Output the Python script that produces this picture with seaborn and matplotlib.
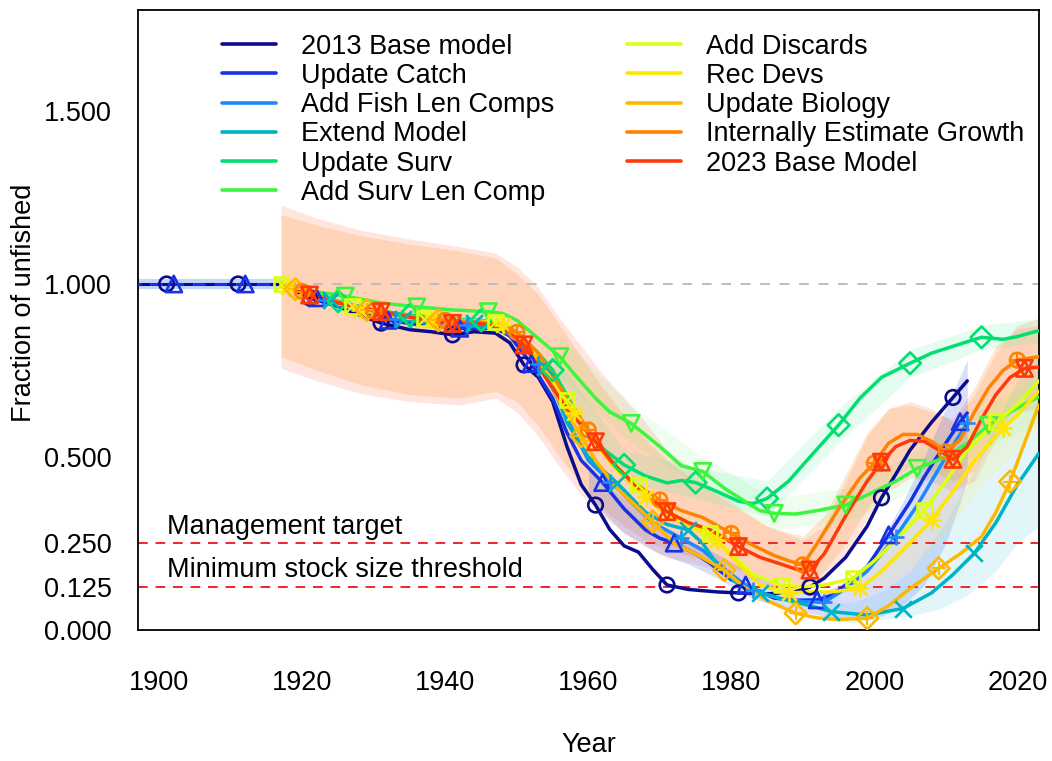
import numpy as np
import pandas as pd
import matplotlib
matplotlib.use("Agg")
import matplotlib.pyplot as plt
from matplotlib.lines import Line2D
import seaborn as sns

# ---------------- data ----------------
model_names = ["2013 Base model", "Update Catch", "Add Fish Len Comps", "Extend Model",
               "Update Surv", "Add Surv Len Comp", "Add Discards", "Rec Devs",
               "Update Biology", "Internally Estimate Growth", "2023 Base Model"]
model_colors = ["#0B0B8E", "#1432E6", "#1E88FF", "#00B2C2", "#00E070", "#3CF53C",
                "#DDFF10", "#FFE600", "#FFB800", "#FF8200", "#FF3A0A"]
marker_kinds = ["o", "^", "+", "x", "D", "v", "sx", "ast", "D+", "o+", "star"]

# virgin (pre-model) segment for the two oldest models
virgin_base_years = [1897, 1901, 1911, 1917]
virgin_base_vals = [1.0, 1.0, 1.0, 1.0]
virgin_catch_years = [1897, 1902, 1912, 1917]
virgin_catch_vals = [1.0, 1.0, 1.0, 1.0]

base2013_years = [1917, 1921, 1925, 1928, 1931, 1935, 1938, 1941, 1944, 1947, 1949, 1951, 1953, 1955,
                  1957, 1959, 1961, 1963, 1965, 1967, 1969, 1971, 1974, 1978, 1981, 1985, 1989, 1991,
                  1993, 1996, 1999, 2001, 2003, 2005, 2008, 2011, 2013]
base2013_vals = [1.0, 0.96, 0.935, 0.91, 0.887, 0.868, 0.862, 0.853, 0.862, 0.858, 0.83, 0.766, 0.73, 0.66,
                 0.53, 0.42, 0.361, 0.29, 0.243, 0.225, 0.175, 0.130, 0.117, 0.11, 0.107, 0.104, 0.111, 0.124,
                 0.15, 0.21, 0.30, 0.382, 0.45, 0.52, 0.60, 0.672, 0.72]

catch_years = [1917, 1922, 1927, 1932, 1937, 1942, 1947, 1949, 1952, 1955, 1957, 1959, 1962, 1965, 1968,
               1970, 1972, 1975, 1977, 1980, 1982, 1986, 1989, 1992, 1994, 1996, 1999, 2002, 2005, 2007,
               2010, 2012, 2013]
catch_vals = [1.0, 0.96, 0.925, 0.895, 0.88, 0.872, 0.872, 0.85, 0.77, 0.67, 0.57, 0.49, 0.426, 0.35, 0.289,
              0.265, 0.251, 0.22, 0.193, 0.145, 0.13, 0.092, 0.086, 0.087, 0.10, 0.13, 0.183, 0.275, 0.37, 0.443,
              0.54, 0.602, 0.627]

fishlen_years = [1917, 1923, 1928, 1933, 1938, 1943, 1948, 1950, 1953, 1956, 1958, 1960, 1963, 1966, 1969,
                 1973, 1976, 1980, 1983, 1987, 1990, 1993, 1996, 1999, 2003, 2006, 2010, 2013]
fishlen_vals = [1.0, 0.955, 0.925, 0.90, 0.885, 0.88, 0.872, 0.84, 0.77, 0.66, 0.57, 0.49, 0.429, 0.37, 0.31,
                0.265, 0.23, 0.16, 0.115, 0.09, 0.082, 0.08, 0.12, 0.17, 0.27, 0.36, 0.50, 0.598]

extend_years = [1917, 1920, 1924, 1929, 1934, 1939, 1944, 1947, 1950, 1954, 1957, 1960, 1964, 1968, 1971,
                1974, 1976, 1978, 1981, 1984, 1988, 1991, 1994, 1999, 2004, 2008, 2011, 2014, 2017, 2020, 2023]
extend_vals = [1.0, 0.98, 0.955, 0.92, 0.898, 0.89, 0.887, 0.88, 0.84, 0.76, 0.60, 0.50, 0.425, 0.34, 0.305,
               0.289, 0.25, 0.19, 0.13, 0.107, 0.085, 0.07, 0.053, 0.043, 0.062, 0.107, 0.16, 0.222, 0.31, 0.42, 0.51]

surv_years = [1917, 1921, 1925, 1930, 1935, 1940, 1945, 1948, 1950, 1953, 1955, 1958, 1961, 1965, 1968,
              1971, 1973, 1975, 1978, 1981, 1983, 1985, 1988, 1991, 1995, 1998, 2001, 2005, 2008, 2011,
              2015, 2018, 2020, 2023]
surv_vals = [1.0, 0.975, 0.95, 0.925, 0.91, 0.90, 0.895, 0.885, 0.86, 0.80, 0.751, 0.64, 0.54, 0.477, 0.445,
             0.425, 0.432, 0.426, 0.40, 0.372, 0.365, 0.38, 0.43, 0.50, 0.592, 0.67, 0.73, 0.771, 0.80, 0.82,
             0.846, 0.84, 0.848, 0.865]

survlen_years = [1917, 1921, 1926, 1931, 1936, 1941, 1946, 1948, 1950, 1952, 1956, 1958, 1961, 1963, 1966,
                 1970, 1973, 1976, 1979, 1982, 1984, 1986, 1989, 1992, 1996, 1999, 2003, 2006, 2010, 2013,
                 2016, 2019, 2023]
survlen_vals = [1.0, 0.98, 0.965, 0.945, 0.934, 0.925, 0.92, 0.915, 0.895, 0.86, 0.79, 0.74, 0.67, 0.63, 0.597,
                0.53, 0.475, 0.458, 0.41, 0.37, 0.345, 0.337, 0.335, 0.345, 0.361, 0.39, 0.43, 0.467, 0.50, 0.54,
                0.592, 0.63, 0.674]

discards_years = [1917, 1922, 1927, 1932, 1937, 1942, 1947, 1950, 1953, 1957, 1960, 1963, 1967, 1970, 1974,
                  1977, 1980, 1983, 1987, 1990, 1993, 1997, 2000, 2003, 2007, 2010, 2013, 2017, 2020, 2023]
discards_vals = [1.0, 0.965, 0.935, 0.91, 0.90, 0.895, 0.89, 0.85, 0.79, 0.665, 0.56, 0.49, 0.419, 0.36, 0.31,
                 0.279, 0.22, 0.16, 0.13, 0.125, 0.13, 0.149, 0.20, 0.26, 0.347, 0.43, 0.52, 0.602, 0.65, 0.72]

recdevs_years = [1917, 1918, 1923, 1928, 1933, 1938, 1943, 1948, 1950, 1953, 1955, 1958, 1961, 1964, 1968,
                 1971, 1974, 1978, 1981, 1984, 1988, 1991, 1994, 1998, 2001, 2004, 2008, 2011, 2014, 2018,
                 2020, 2023]
recdevs_vals = [1.0, 0.99, 0.955, 0.925, 0.905, 0.895, 0.89, 0.88, 0.85, 0.78, 0.72, 0.627, 0.54, 0.46, 0.385,
                0.33, 0.30, 0.26, 0.19, 0.13, 0.107, 0.11, 0.11, 0.12, 0.17, 0.23, 0.318, 0.40, 0.49, 0.583,
                0.62, 0.69]

biology_years = [1917, 1919, 1924, 1929, 1934, 1939, 1944, 1948, 1950, 1953, 1956, 1959, 1961, 1964, 1969,
                 1972, 1975, 1979, 1982, 1985, 1989, 1992, 1995, 1999, 2002, 2005, 2009, 2012, 2015, 2017,
                 2019, 2021, 2023]
biology_vals = [1.0, 0.985, 0.95, 0.925, 0.905, 0.895, 0.89, 0.878, 0.85, 0.78, 0.66, 0.56, 0.49, 0.41, 0.313,
                0.25, 0.22, 0.173, 0.12, 0.085, 0.048, 0.035, 0.03, 0.034, 0.07, 0.12, 0.178, 0.22, 0.27, 0.34,
                0.429, 0.54, 0.65]

growth_years = [1917, 1920, 1925, 1930, 1935, 1940, 1945, 1948, 1950, 1953, 1957, 1960, 1963, 1966, 1970,
                1973, 1976, 1980, 1983, 1986, 1988, 1990, 1992, 1995, 1998, 2000, 2002, 2004, 2006, 2008,
                2010, 2012, 2014, 2016, 2018, 2020, 2023]
growth_vals = [1.0, 0.978, 0.948, 0.922, 0.905, 0.895, 0.89, 0.88, 0.86, 0.80, 0.67, 0.578, 0.49, 0.43, 0.376,
               0.345, 0.325, 0.279, 0.245, 0.215, 0.20, 0.188, 0.25, 0.35, 0.44, 0.482, 0.54, 0.565, 0.565, 0.545,
               0.515, 0.55, 0.63, 0.70, 0.75, 0.78, 0.79]

base2023_years = [1917, 1921, 1926, 1931, 1936, 1941, 1945, 1948, 1951, 1954, 1957, 1961, 1964, 1967, 1971,
                  1974, 1977, 1981, 1984, 1987, 1989, 1991, 1993, 1996, 1999, 2001, 2003, 2005, 2007, 2009,
                  2011, 2013, 2015, 2017, 2019, 2021, 2023]
base2023_vals = [1.0, 0.968, 0.94, 0.92, 0.90, 0.886, 0.885, 0.875, 0.824, 0.73, 0.64, 0.544, 0.47, 0.41, 0.342,
                 0.31, 0.29, 0.241, 0.21, 0.19, 0.176, 0.173, 0.22, 0.33, 0.43, 0.485, 0.53, 0.548, 0.545, 0.52,
                 0.493, 0.53, 0.61, 0.68, 0.73, 0.756, 0.76]

# uncertainty bands (read from the shaded areas)
band_red_years = [1917, 1922, 1928, 1935, 1942, 1947, 1950, 1953, 1956, 1959, 1962, 1965, 1968, 1971, 1975,
                  1980, 1985, 1990, 1993, 1996, 1999, 2002, 2005, 2008, 2011, 2014, 2017, 2020, 2023]
band_red_hi = [1.228, 1.19, 1.156, 1.13, 1.108, 1.089, 1.05, 0.99, 0.90, 0.82, 0.74, 0.67, 0.60, 0.52, 0.45,
               0.37, 0.30, 0.26, 0.30, 0.43, 0.56, 0.64, 0.66, 0.64, 0.60, 0.68, 0.80, 0.88, 0.90]
band_red_lo = [0.756, 0.72, 0.684, 0.66, 0.65, 0.67, 0.63, 0.56, 0.47, 0.39, 0.33, 0.28, 0.24, 0.21, 0.19,
               0.16, 0.13, 0.11, 0.14, 0.22, 0.32, 0.40, 0.44, 0.43, 0.40, 0.43, 0.55, 0.63, 0.64]
band_orange_hi = [1.20, 1.17, 1.14, 1.115, 1.095, 1.075, 1.03, 0.97, 0.88, 0.79, 0.70, 0.62, 0.55, 0.49, 0.43,
                  0.36, 0.30, 0.27, 0.33, 0.45, 0.57, 0.64, 0.65, 0.63, 0.61, 0.70, 0.82, 0.87, 0.88]
band_orange_lo = [0.79, 0.75, 0.71, 0.68, 0.67, 0.69, 0.66, 0.59, 0.50, 0.42, 0.35, 0.30, 0.26, 0.23, 0.21,
                  0.18, 0.15, 0.13, 0.17, 0.25, 0.35, 0.43, 0.47, 0.46, 0.43, 0.46, 0.57, 0.65, 0.67]

band_virgin_years = [1897, 1917]
band_virgin_hi = [1.015, 1.015]
band_virgin_lo = [0.985, 0.985]

band_catch_years = [1960, 1965, 1970, 1974, 1978, 1983, 1988, 1993, 1998, 2001, 2004, 2007, 2010, 2013]
band_catch_hi = [0.46, 0.38, 0.30, 0.26, 0.22, 0.16, 0.12, 0.11, 0.16, 0.26, 0.37, 0.50, 0.64, 0.78]
band_catch_lo = [0.38, 0.28, 0.22, 0.19, 0.15, 0.09, 0.06, 0.04, 0.03, 0.04, 0.07, 0.13, 0.25, 0.43]

band_extend_years = [1993, 1997, 2001, 2005, 2009, 2013, 2017, 2020, 2023]
band_extend_hi = [0.08, 0.08, 0.11, 0.17, 0.28, 0.42, 0.60, 0.72, 0.80]
band_extend_lo = [0.03, 0.02, 0.03, 0.04, 0.06, 0.10, 0.17, 0.25, 0.30]

band_surv_years = [1955, 1965, 1975, 1985, 1995, 2005, 2015, 2023]
band_surv_hi = [0.80, 0.52, 0.47, 0.43, 0.64, 0.81, 0.88, 0.90]
band_surv_lo = [0.70, 0.43, 0.38, 0.33, 0.54, 0.73, 0.81, 0.83]

band_survlen_years = [1956, 1966, 1976, 1986, 1996, 2006, 2016, 2023]
band_survlen_hi = [0.85, 0.65, 0.50, 0.38, 0.41, 0.52, 0.65, 0.73]
band_survlen_lo = [0.73, 0.54, 0.41, 0.29, 0.31, 0.41, 0.53, 0.60]

band_recdevs_years = [2000, 2005, 2010, 2015, 2020, 2023]
band_recdevs_hi = [0.24, 0.33, 0.48, 0.62, 0.72, 0.78]
band_recdevs_lo = [0.11, 0.17, 0.28, 0.42, 0.52, 0.60]

y_ticks = [0.0, 0.125, 0.25, 0.5, 1.0, 1.5]
x_ticks = [1900, 1920, 1940, 1960, 1980, 2000, 2020]
ref_levels = [0.25, 0.125]
ref_labels = ["Management target", "Minimum stock size threshold"]

# ---------------- assemble ----------------
series_years = [base2013_years, catch_years, fishlen_years, extend_years, surv_years, survlen_years,
                discards_years, recdevs_years, biology_years, growth_years, base2023_years]
series_vals = [base2013_vals, catch_vals, fishlen_vals, extend_vals, surv_vals, survlen_vals,
               discards_vals, recdevs_vals, biology_vals, growth_vals, base2023_vals]
frames = []
for name, yrs, vals in zip(model_names, series_years, series_vals):
    frames.append(pd.DataFrame({"Year": yrs, "Value": vals, "Model": name}))
df = pd.concat(frames, ignore_index=True)

bands = [  # (years, lo, hi, color, alpha)
    (band_red_years, band_red_lo, band_red_hi, "#FF6A3A", 0.17),
    (band_red_years, band_orange_lo, band_orange_hi, "#FF9A40", 0.24),
    (band_virgin_years, band_virgin_lo, band_virgin_hi, "#3D7CF0", 0.30),
    (band_catch_years, band_catch_lo, band_catch_hi, "#3D5CF0", 0.20),
    (band_extend_years, band_extend_lo, band_extend_hi, "#40C8E0", 0.15),
    (band_surv_years, band_surv_lo, band_surv_hi, "#30E890", 0.12),
    (band_survlen_years, band_survlen_lo, band_survlen_hi, "#60F060", 0.10),
    (band_recdevs_years, band_recdevs_lo, band_recdevs_hi, "#FFEA40", 0.15),
]

# ---------------- style ----------------
sns.set_theme(style="white")
plt.rcParams["font.family"] = ["Liberation Sans", "DejaVu Sans"]
plt.rcParams["text.color"] = "black"
plt.rcParams["axes.labelcolor"] = "black"
FS = 19.5

fig = plt.figure(figsize=(10.52, 7.61), dpi=100)
ax = fig.add_axes([0.1312, 0.1722, 0.8562, 0.8147])
ax.set_xlim(1897, 2023)
ax.set_ylim(0, 1.792)

for yrs, lo, hi, col, a in bands:
    ax.fill_between(yrs, lo, hi, color=col, alpha=a, linewidth=0, zorder=1)

ax.axhline(1.0, color="#BDBDBD", lw=1.4, ls=(0, (5, 5)), zorder=1.5)
for lev in ref_levels:
    ax.axhline(lev, color="#F0262A", lw=1.4, ls=(0, (5, 4)), zorder=1.5)
for lev, lab in zip(ref_levels, ref_labels):
    ax.text(1901.1, lev + 0.010, lab, fontsize=FS, ha="left", va="bottom", color="black", zorder=5)

# virgin dashed segments
ax.plot(virgin_base_years, virgin_base_vals, color=model_colors[0], lw=2.2, ls=(0, (4, 3)), zorder=3)
ax.plot(virgin_catch_years, virgin_catch_vals, color=model_colors[1], lw=2.2, ls=(3, (4, 3)), zorder=3)

palette = dict(zip(model_names, model_colors))
sns.lineplot(data=df, x="Year", y="Value", hue="Model", palette=palette, hue_order=model_names,
             estimator=None, sort=True, lw=2.5, legend=False, ax=ax, zorder=3)


def draw_markers(xs, ys, kind, col, z):
    ms = 110
    lw = 1.9
    if kind in ("o", "^", "v", "D", "s"):
        size = {"o": ms, "^": ms * 1.25, "v": ms * 1.25, "D": ms * 1.1, "s": ms}[kind]
        ax.scatter(xs, ys, marker=kind, s=size, facecolors="none", edgecolors=col, linewidths=lw, zorder=z)
    elif kind in ("+", "x"):
        ax.scatter(xs, ys, marker=kind, s=ms * 1.3, c=col, linewidths=lw, zorder=z)
    elif kind == "sx":
        ax.scatter(xs, ys, marker="s", s=ms, facecolors="none", edgecolors=col, linewidths=lw, zorder=z)
        ax.scatter(xs, ys, marker="x", s=ms * 0.9, c=col, linewidths=lw * 0.8, zorder=z)
    elif kind == "ast":
        ax.scatter(xs, ys, marker="+", s=ms * 1.4, c=col, linewidths=lw, zorder=z)
        ax.scatter(xs, ys, marker="x", s=ms * 1.0, c=col, linewidths=lw, zorder=z)
    elif kind == "D+":
        ax.scatter(xs, ys, marker="D", s=ms * 1.1, facecolors="none", edgecolors=col, linewidths=lw, zorder=z)
        ax.scatter(xs, ys, marker="+", s=ms * 0.9, c=col, linewidths=lw * 0.8, zorder=z)
    elif kind == "o+":
        ax.scatter(xs, ys, marker="o", s=ms, facecolors="none", edgecolors=col, linewidths=lw, zorder=z)
        ax.scatter(xs, ys, marker="+", s=ms * 0.9, c=col, linewidths=lw * 0.8, zorder=z)
    elif kind == "star":
        ax.scatter(xs, ys, marker="^", s=ms * 1.25, facecolors="none", edgecolors=col, linewidths=lw, zorder=z)
        ax.scatter(xs, ys, marker="v", s=ms * 1.25, facecolors="none", edgecolors=col, linewidths=lw, zorder=z)


for i, (yrs, vals) in enumerate(zip(series_years, series_vals)):
    offset = (i + 1) % 10
    sel = [(x, y) for x, y in zip(yrs, vals) if x % 10 == offset]
    if i == 0:
        sel += [(x, y) for x, y in zip(virgin_base_years, virgin_base_vals) if x % 10 == offset and x < 1917]
    if i == 1:
        sel += [(x, y) for x, y in zip(virgin_catch_years, virgin_catch_vals) if x % 10 == offset and x < 1917]
    if sel:
        xs, ys = zip(*sel)
        draw_markers(xs, ys, marker_kinds[i], model_colors[i], 4 + i * 0.01)

# axes styling
ax.set_yticks(y_ticks)
ax.set_yticklabels([f"{v:.3f}" for v in y_ticks])
ax.set_xticks(x_ticks + [2023])
ax.set_xticklabels([str(v) for v in x_ticks] + [""])
ax.tick_params(axis="both", which="major", direction="out", length=12, width=1.2,
               labelsize=FS, color="black", labelcolor="black")
ax.tick_params(axis="x", pad=17)
ax.tick_params(axis="y", pad=7)
for sp in ax.spines.values():
    sp.set_visible(True)
    sp.set_color("black")
    sp.set_linewidth(1.3)
ax.grid(False)
ax.set_facecolor("white")
ax.set_xlabel("Year", fontsize=FS, labelpad=26, color="black")
ax.set_ylabel("Fraction of unfished", fontsize=FS, color="black")
ax.yaxis.set_label_coords(-0.112, 0.527)

handles = [Line2D([0], [0], color=c, lw=2.6) for c in model_colors]
leg = ax.legend(handles, model_names, ncol=2, loc="upper left", bbox_to_anchor=(0.093, 0.962),
                frameon=False, fontsize=FS, handlelength=2.0, handletextpad=0.92,
                columnspacing=2.7, labelspacing=0.12, borderpad=0, borderaxespad=0,
                labelcolor="black")

fig.savefig("out.png", dpi=100, facecolor="white")
